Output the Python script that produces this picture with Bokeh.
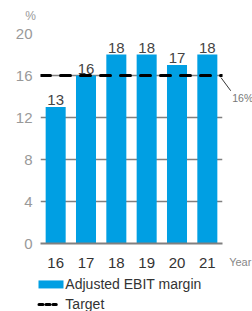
from bokeh.plotting import figure
from bokeh.models import Range1d, FactorRange, FixedTicker
from bokeh.core.properties import value
from bokeh.embed import file_html
from bokeh.resources import INLINE

years = ["16", "17", "18", "19", "20", "21"]
margin = [13, 16, 18, 18, 17, 18]
target_value = 16
y_ticks = [0, 4, 8, 12, 16, 20]
legend_labels = ["Adjusted EBIT margin", "Target"]

FONT = "Liberation Sans"
BLUE = "#009fe3"
GRID = "#808080"

p = figure(frame_width=182, frame_height=210, x_range=FactorRange(*years), y_range=Range1d(0, 20),
           output_backend="svg", toolbar_location=None,
           min_border_left=40, min_border_right=30, min_border_top=33, min_border_bottom=68)
p.outline_line_color = None
p.xgrid.grid_line_color = None
p.ygrid.ticker = FixedTicker(ticks=y_ticks)
p.ygrid.grid_line_color = GRID
p.ygrid.grid_line_width = 1.5

p.yaxis.ticker = FixedTicker(ticks=y_ticks)
p.yaxis.axis_line_color = None
p.yaxis.major_tick_line_color = None
p.yaxis.minor_tick_line_color = None
p.yaxis.major_label_text_color = "#999999"
p.yaxis.major_label_text_font = FONT
p.yaxis.major_label_text_font_size = "15px"
p.yaxis.major_label_standoff = 2

p.xaxis.axis_line_color = GRID
p.xaxis.axis_line_width = 2
p.xaxis.major_tick_line_color = None
p.xaxis.minor_tick_line_color = None
p.xaxis.major_label_text_color = "#333333"
p.xaxis.major_label_text_font = FONT
p.xaxis.major_label_text_font_size = "15px"
p.xaxis.major_label_standoff = 8

bars = p.vbar(x=years, top=margin, width=0.66, fill_color=BLUE, line_color=None)
p.text(x=years, y=margin, text=[str(v) for v in margin], y_offset=-2,
       text_align="center", text_baseline="bottom", text_color="#444444",
       text_font=value(FONT), text_font_size="15px")

tline = p.line(x=[(years[0], -0.5), (years[-1], 0.5)], y=[target_value, target_value],
               line_color="black", line_width=3, line_dash="10 10", line_cap="round")

# texts outside the frame, drawn at overlay level (not clipped)
p.segment(x0=[(years[-1], 0.45)], y0=[target_value - 0.2], x1=[(years[-1], 0.77)], y1=[target_value - 1.45],
          line_color="black", line_width=0.8, level="overlay")
p.text(x=[(years[-1], 0.82)], y=[target_value - 2.1], text=[f"{target_value}%"],
       text_baseline="middle", text_color="#777777", text_font=value(FONT),
       text_font_size="10.5px", level="overlay")
p.text(x=[(years[0], -0.83)], y=[21.7], text=["%"], text_align="center", text_baseline="middle",
       text_color="#999999", text_font=value(FONT), text_font_size="12px", level="overlay")
p.text(x=[(years[-1], 0.72)], y=[-1.8], text=["Year"], text_baseline="middle",
       text_color="#888888", text_font=value(FONT), text_font_size="11px", level="overlay")

# legend below the axis
p.rect(x=[(years[0], -0.154)], y=[-3.9], width=25, height=8, width_units="screen", height_units="screen",
       fill_color=BLUE, line_color=None, level="overlay")
p.segment(x0=[(years[0], -0.55)], y0=[-5.8], x1=[(years[0], 0.02)], y1=[-5.8],
          line_color="black", line_width=3, line_dash="4 3", line_cap="round", level="overlay")
p.text(x=[(years[0], 0.32), (years[0], 0.32)], y=[-3.9, -5.8], text=legend_labels,
       text_baseline="middle", text_color="#333333", text_font=value(FONT),
       text_font_size="14px", level="overlay")

open("out.html", "w").write(file_html(p, INLINE))
